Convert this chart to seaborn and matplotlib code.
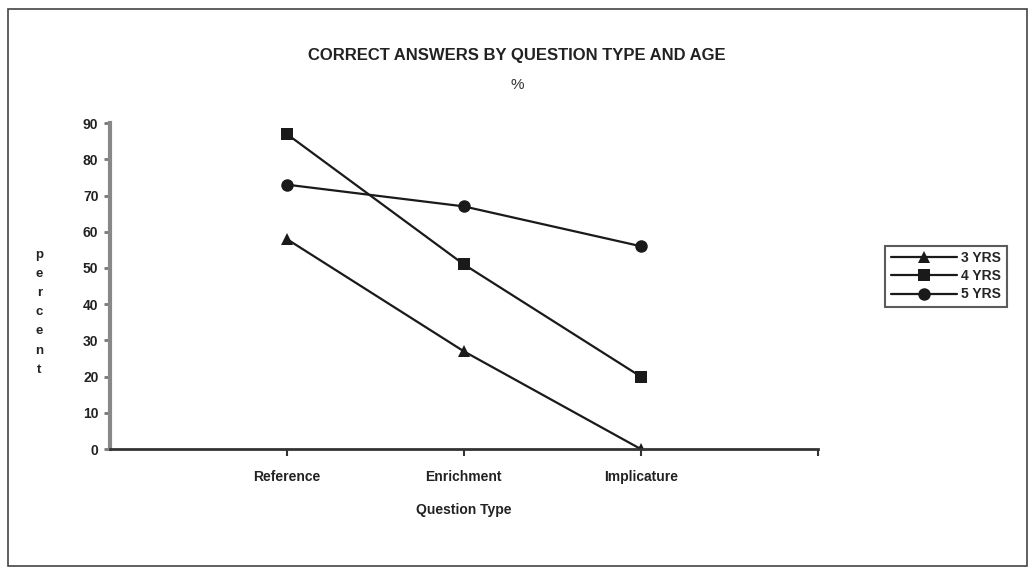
import matplotlib
matplotlib.use("Agg")
import matplotlib.pyplot as plt
import seaborn as sns
import pandas as pd
from matplotlib.patches import Rectangle

categories = ["Reference", "Enrichment", "Implicature"]
yrs3 = [58, 27, 0]
yrs4 = [87, 51, 20]
yrs5 = [73, 67, 56]
series_names = ["3 YRS", "4 YRS", "5 YRS"]
yticks = [0, 10, 20, 30, 40, 50, 60, 70, 80, 90]

sns.set_theme(style="white")
plt.rcParams['font.family'] = ['Liberation Sans', 'DejaVu Sans']

rows = []
for name, vals in zip(series_names, [yrs3, yrs4, yrs5]):
    for i, (c, v) in enumerate(zip(categories, vals)):
        rows.append({"pos": i + 1, "cat": c, "value": v, "age": name})
df = pd.DataFrame(rows)

fig = plt.figure(figsize=(10.34, 5.75), dpi=100)
ax = fig.add_axes([0.106, 0.219, 0.685, 0.567])

sns.lineplot(data=df, x="pos", y="value", hue="age", style="age",
             palette={n: "#1a1a1a" for n in series_names},
             markers={"3 YRS": "^", "4 YRS": "s", "5 YRS": "o"},
             dashes=False, markersize=9, linewidth=1.6, ax=ax,
             markeredgewidth=0)

ax.set_xlim(0, 4)
ax.set_ylim(0, 90)
ax.set_xticks([1, 2, 3, 4])
ax.set_xticklabels(categories + [""], fontsize=10, fontweight="bold", color="#222222")
ax.set_yticks(yticks)
ax.set_yticklabels([str(t) for t in yticks], fontsize=10, fontweight="bold", color="#222222")
ax.tick_params(axis="y", left=True, length=4, width=2, color="#777777", pad=4)
ax.tick_params(axis="x", bottom=True, length=5, width=1.5, color="#333333", pad=10)

for s in ["top", "right"]:
    ax.spines[s].set_visible(False)
ax.spines["left"].set_color("#888888")
ax.spines["left"].set_linewidth(3)
ax.spines["bottom"].set_color("#333333")
ax.spines["bottom"].set_linewidth(2)
ax.set_xlabel("Question Type", fontsize=10, fontweight="bold", color="#222222", labelpad=14)
ax.set_ylabel("")

fig.text(0.038, 0.457, "p\ne\nr\nc\ne\nn\nt", ha="center", va="center",
         fontsize=9.5, fontweight="bold", color="#222222", linespacing=1.8)

fig.text(0.5, 0.904, "CORRECT ANSWERS BY QUESTION TYPE AND AGE", ha="center", va="center",
         fontsize=12, fontweight="bold", color="#222222")
fig.text(0.5, 0.852, "%", ha="center", va="center", fontsize=11, color="#333333")

handles, labels = ax.get_legend_handles_labels()
leg = ax.legend(handles, labels, loc="center left", bbox_to_anchor=(1.085, 0.53),
                frameon=True, fancybox=False, prop={"weight": "bold", "size": 10},
                handlelength=4.8, borderpad=0.4, labelspacing=0.3, handletextpad=0.3)
leg.get_frame().set_edgecolor("#333333")
leg.get_frame().set_linewidth(1.5)

fig.patches.append(Rectangle((0.008, 0.015), 0.985, 0.97, transform=fig.transFigure,
                             fill=False, edgecolor="#444444", linewidth=1.2))

fig.savefig("out.png", dpi=100)
